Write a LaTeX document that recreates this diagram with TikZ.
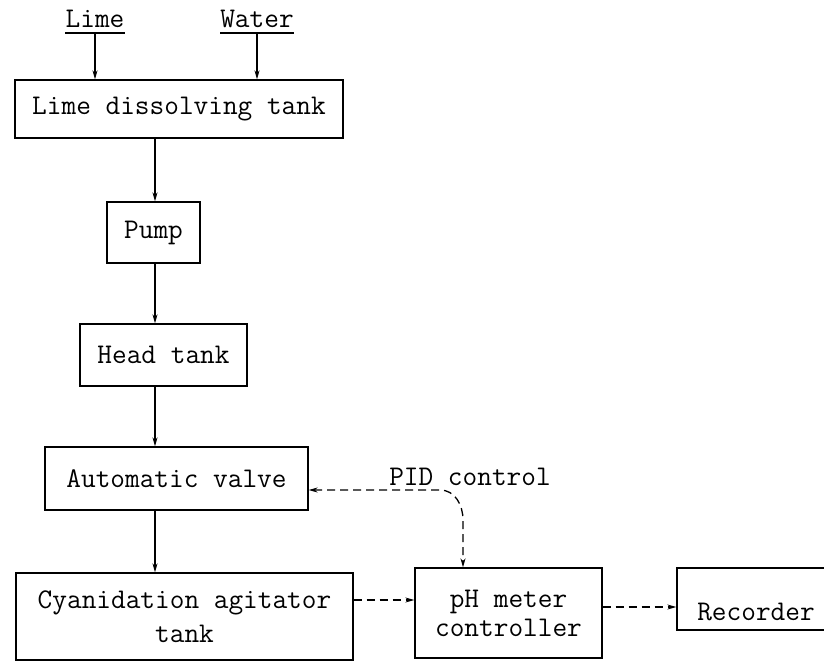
\documentclass[tikz,border=0pt]{standalone}
\usepackage{fontspec}
\setmainfont{Latin Modern Mono}
\usetikzlibrary{arrows.meta}
\begin{document}
\begin{tikzpicture}[x=1bp,y=-1bp,
  txt/.style={inner sep=0pt, font=\fontsize{28.5bp}{32bp}\selectfont},
  box/.style={draw, line width=1.3bp, rectangle, inner sep=0pt, align=center, font=\fontsize{28.5bp}{32bp}\selectfont},
  flow/.style={line width=1.3bp, -{Stealth[length=9bp,width=5bp]}},
  sig/.style={line width=1.3bp, dash pattern=on 8bp off 5bp}]
\path[clip, use as bounding box] (0,0) rectangle (824,661);
\fill[white] (0,0) rectangle (824,661);
% labels
\node[txt, anchor=base] (limelbl) at (95,28) {Lime};
\node[txt, anchor=base] (waterlbl) at (257,28) {Water};
\draw[line width=1.3bp] ([yshift=-5bp]limelbl.base west) -- ([yshift=-5bp]limelbl.base east);
\draw[line width=1.3bp] ([yshift=-5bp]waterlbl.base west) -- ([yshift=-5bp]waterlbl.base east);
% boxes
\node[box, minimum width=328bp, minimum height=58bp] (lime) at (179,109) {Lime dissolving tank};
\node[box, minimum width=93bp, minimum height=61bp] (pump) at (153.5,232.5) {Pump};
\node[box, minimum width=167bp, minimum height=62bp] (head) at (163.5,355) {Head tank};
\node[box, minimum width=263bp, minimum height=63bp] (valve) at (176.5,478.5) {Automatic valve};
\node[box, minimum width=337bp, minimum height=87bp, font=\fontsize{28.5bp}{34bp}\selectfont] (cyan) at (184.5,616.5) {Cyanidation agitator\\tank};
\node[box, minimum width=187bp, minimum height=90bp, font=\fontsize{28.5bp}{29bp}\selectfont] (ph) at (508.5,613) {pH meter\\controller};
\node[box, minimum width=163bp, minimum height=62bp] (rec) at (758.5,599) {};
\node[txt] (rectxt) at (756,612) {Recorder};
\node[txt, anchor=base] (pidlbl) at (470,485) {PID control};
% flow arrows
\coordinate (col) at (155,0);
\draw[flow] ([yshift=-5bp]limelbl.base) -- (limelbl.base |- lime.north);
\draw[flow] ([yshift=-5bp]waterlbl.base) -- (waterlbl.base |- lime.north);
\draw[flow] (col |- lime.south) -- (col |- pump.north);
\draw[flow] (col |- pump.south) -- (col |- head.north);
\draw[flow] (col |- head.south) -- (col |- valve.north);
\draw[flow] (col |- valve.south) -- (col |- cyan.north);
% signal lines
\coordinate (pidA) at (440,490);
\coordinate (pidB) at (463,520);
\draw[sig, {Stealth[length=9bp,width=5bp]}-{Stealth[length=9bp,width=5bp]}]
  (valve.east |- pidA) -- (pidA) .. controls +(15,0) and +(0,-15) .. (pidB) -- (pidB |- ph.north);
\coordinate (s1) at (0,600);
\draw[sig, -{Stealth[length=9bp,width=5bp]}] (cyan.east |- s1) -- (ph.west |- s1);
\coordinate (s2) at (0,607);
\draw[sig, -{Stealth[length=9bp,width=5bp]}] (ph.east |- s2) -- (rec.west |- s2);
\end{tikzpicture}
\end{document}
